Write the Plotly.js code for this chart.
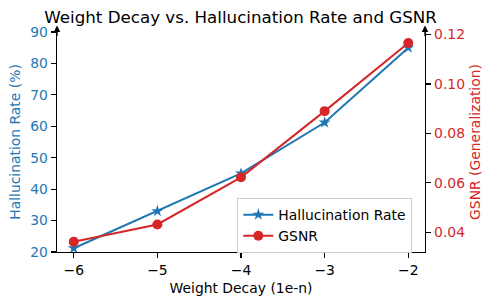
<!DOCTYPE html>
<html>
<head>
<meta charset="utf-8">
<script src="https://cdn.plot.ly/plotly-3.0.1.min.js"></script>
<style>html,body{margin:0;padding:0;background:#fff;}#chart{width:496px;height:305px;}</style>
</head>
<body>
<div id="chart"></div>
<script>
const weightDecay = [-6, -5, -4, -3, -2];
const hallucinationRate = [21.2, 33.0, 45.0, 61.2, 85.0];
const gsnr = [0.0361, 0.0431, 0.0622, 0.0890, 0.1166];
const xTicks = [-6, -5, -4, -3, -2];
const leftTicks = [20, 30, 40, 50, 60, 70, 80, 90];
const rightTicks = [0.04, 0.06, 0.08, 0.10, 0.12];

const blue = '#1f77b4', red = '#d62728';
const FONT = 'DejaVu Sans, sans-serif';

const traces = [
  {x: weightDecay, y: hallucinationRate, name: 'Hallucination Rate', mode: 'lines+markers',
   line: {color: blue, width: 2}, marker: {symbol: 'star', size: 9, color: blue}, yaxis: 'y'},
  {x: weightDecay, y: gsnr, name: 'GSNR', mode: 'lines+markers',
   line: {color: red, width: 2}, marker: {symbol: 'circle', size: 10, color: red}, yaxis: 'y2'}
];

const layout = {
  width: 496, height: 305,
  margin: {l: 57, r: 71, t: 32, b: 53},
  paper_bgcolor: '#fff', plot_bgcolor: '#fff',
  font: {family: FONT, size: 13.9, color: '#000'},
  title: {text: 'Weight Decay vs. Hallucination Rate and GSNR', font: {family: FONT, size: 16.7, color: '#000'},
          x: 0.485, xanchor: 'center', y: 0.945, yanchor: 'middle'},
  showlegend: true,
  legend: {x: 0.49, y: 0.245, xanchor: 'left', yanchor: 'top', bgcolor: 'rgba(255,255,255,0.8)',
           bordercolor: '#cccccc', borderwidth: 1, font: {family: FONT, size: 13.9, color: '#000'},
           tracegroupgap: 0, itemwidth: 30},
  xaxis: {range: [-6.2, -1.8], tickvals: xTicks, showgrid: false, zeroline: false,
          showline: true, linecolor: '#000', linewidth: 1.3, ticks: 'outside', ticklen: 5, tickwidth: 1.1,
          tickcolor: '#000', tickfont: {size: 13.9, color: '#000'},
          title: {text: 'Weight Decay (1e-n)', font: {size: 13.9, color: '#000'}, standoff: 6}},
  yaxis: {range: [20, 90], tickvals: leftTicks, showgrid: false, zeroline: false,
          showline: true, linecolor: '#000', linewidth: 1.3, ticks: 'outside', ticklen: 5, tickwidth: 1.1,
          tickcolor: '#000', tickfont: {size: 13.9, color: blue},
          title: {text: 'Hallucination Rate (%)', font: {size: 13.9, color: blue}, standoff: 6}},
  yaxis2: {range: [0.03195, 0.12105], tickvals: rightTicks, tickformat: '.2f', overlaying: 'y', side: 'right',
           showgrid: false, zeroline: false, showline: true, linecolor: '#000', linewidth: 1.3,
           ticks: 'outside', ticklen: 5, tickwidth: 1.1, tickcolor: '#000',
           tickfont: {size: 13.9, color: red},
           title: {text: 'GSNR (Generalization)', font: {size: 13.9, color: red}, standoff: 6}},
  annotations: [
    {xref: 'paper', yref: 'paper', x: 0, y: 1.03, ax: 0, ay: 12, text: '', showarrow: true,
     arrowhead: 2, arrowsize: 1, arrowwidth: 1.3, arrowcolor: '#000'},
    {xref: 'paper', yref: 'paper', x: 1, y: 1.03, ax: 0, ay: 12, text: '', showarrow: true,
     arrowhead: 2, arrowsize: 1, arrowwidth: 1.3, arrowcolor: '#000'}
  ]
};

Plotly.newPlot('chart', traces, layout, {displayModeBar: false, staticPlot: true});
</script>
</body>
</html>
